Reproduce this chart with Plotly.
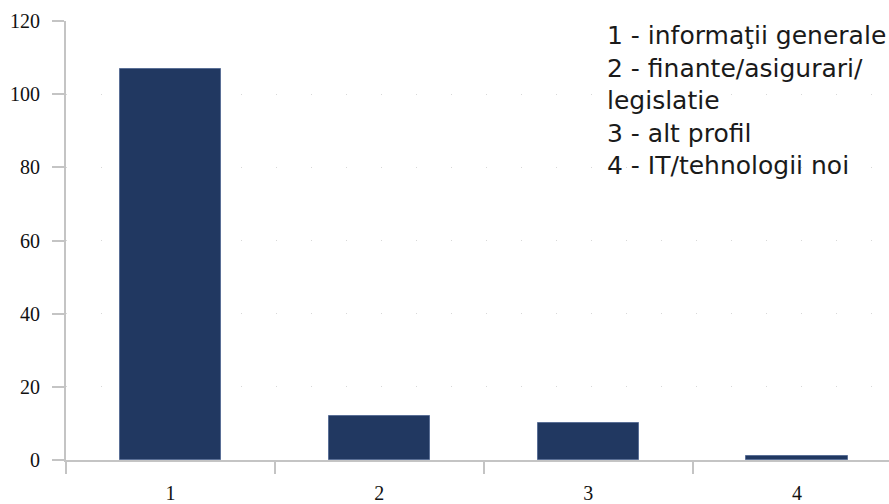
import plotly.graph_objects as go

categories = ["1", "2", "3", "4"]
values = [107, 12, 10, 1]
y_ticks = [0, 20, 40, 60, 80, 100, 120]
legend_lines = [
    "1 - informaţii generale",
    "2 - finante/asigurari/",
    "legislatie",
    "3 - alt profil",
    "4 - IT/tehnologii noi",
]

fig = go.Figure()
fig.add_trace(go.Bar(
    x=categories, y=values, width=0.485,
    marker=dict(color="#213861", line=dict(color="#5a6f96", width=1)),
))

fig.update_layout(
    width=889, height=504,
    margin=dict(l=66, r=0, t=21, b=41),
    paper_bgcolor="white", plot_bgcolor="white",
    showlegend=False,
    bargap=0,
)
fig.update_xaxes(
    type="category", range=[-0.5, 3.44],
    showline=True, linecolor="#c4c4c4", linewidth=2,
    ticks="outside", ticklen=12, tickcolor="#c4c4c4", tickwidth=2,
    tickson="boundaries", ticklabelstandoff=14,
    showgrid=False, zeroline=False,
    tickfont=dict(family="Liberation Serif", size=20, color="#111"),
)
fig.update_yaxes(
    range=[0, 120], tickvals=y_ticks,
    showline=True, linecolor="#c4c4c4", linewidth=2,
    ticks="outside", ticklen=12, tickcolor="#c4c4c4", tickwidth=2,
    ticklabelstandoff=8,
    showgrid=True, gridcolor="#d8d8d8", gridwidth=1, griddash="1px,34px",
    zeroline=False,
    tickfont=dict(family="Liberation Serif", size=20, color="#111"),
)
fig.add_annotation(
    xref="paper", yref="paper", x=(605 - 66) / 823, y=1.005,
    xanchor="left", yanchor="top", align="left", showarrow=False,
    text="<br>".join(legend_lines),
    font=dict(family="DejaVu Sans", size=25, color="#1a1a1a"),
)

fig.write_html(
    "out.html",
    config={"displayModeBar": False},
    post_script="document.body.style.margin='0';document.body.style.overflow='hidden';",
)
